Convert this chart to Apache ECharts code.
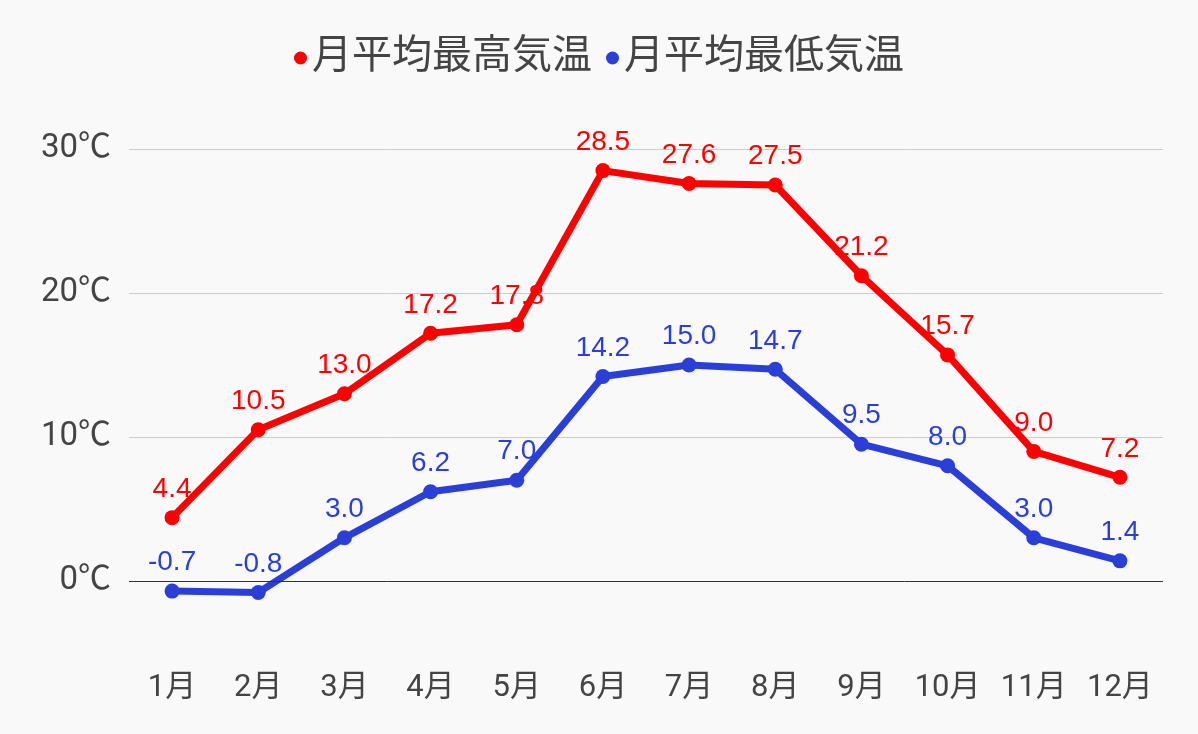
<!DOCTYPE html>
<html><head><meta charset="utf-8">
<script src="https://cdn.jsdelivr.net/npm/echarts@6/dist/echarts.min.js"></script>
<style>html,body{margin:0;padding:0;background:#f9f9f9;}#c{width:1198px;height:734px;}</style>
</head><body><div id="c"></div>
<script>
const months = ['1月','2月','3月','4月','5月','6月','7月','8月','9月','10月','11月','12月'];
const highTemps = [4.4,10.5,13.0,17.2,17.8,28.5,27.6,27.5,21.2,15.7,9.0,7.2];
const lowTemps = [-0.7,-0.8,3.0,6.2,7.0,14.2,15.0,14.7,9.5,8.0,3.0,1.4];
const seriesNames = ['月平均最高気温','月平均最低気温'];
const yTicks = [0,10,20,30];
const FONT = 'Roboto, "Noto Sans CJK JP", sans-serif';
const LFONT = '"Liberation Sans", Arial, sans-serif';
const chart = echarts.init(document.getElementById('c'), null, {renderer:'canvas'});
function lineSeries(name, data, color, withZero){
  const s = {
    name, type:'line', data, z:3,
    symbol:'circle', symbolSize:15,
    lineStyle:{width:7,color}, itemStyle:{color},
    label:{show:false},
    emphasis:{disabled:true}, animation:false
  };
  if (withZero) s.markLine = {silent:true, symbol:'none', label:{show:false},
    lineStyle:{color:'#333', width:1, type:'solid'}, data:[{yAxis:0}], animation:false};
  return s;
}
function labelSeries(name, data, color){
  return {
    name: name + '_label', type:'line', data, z:1,
    symbol:'circle', symbolSize:15, showSymbol:true,
    itemStyle:{color:'rgba(0,0,0,0)', opacity:1},
    lineStyle:{width:0, opacity:0},
    label:{show:true, position:'top', distance:7, color, opacity:1, fontSize:28, fontFamily:LFONT,
      formatter:p=>p.value.toFixed(1)},
    silent:true, emphasis:{disabled:true}, animation:false
  };
}
chart.setOption({
  backgroundColor:'#f9f9f9',
  textStyle:{fontFamily:FONT},
  legend:{top:33, left:'center', icon:'circle', itemWidth:13, itemHeight:13, itemGap:14,
    textStyle:{fontSize:40, color:'#444', fontFamily:FONT}, data:seriesNames},
  grid:{left:129, right:35, top:149, bottom:81},
  xAxis:{type:'category', data:months, boundaryGap:true,
    axisLine:{show:false}, axisTick:{show:false},
    axisLabel:{fontSize:31, color:'#444', margin:20, fontFamily:FONT}},
  yAxis:{type:'value', min:-5, max:30, interval:5,
    axisLine:{show:false}, axisTick:{show:false},
    axisLabel:{fontSize:33, color:'#444', margin:18, fontFamily:FONT,
      formatter:v=>yTicks.includes(v)?v+'℃':''},
    splitLine:{show:true, lineStyle:{color:['transparent','#ccc'], width:1}}},
  series:[
    labelSeries(seriesNames[0], highTemps, '#ff0000'),
    labelSeries(seriesNames[1], lowTemps, '#2a3fd8'),
    lineSeries(seriesNames[0], highTemps, '#ff0000', true),
    lineSeries(seriesNames[1], lowTemps, '#2a3fd8', false)
  ]
});
</script></body></html>
